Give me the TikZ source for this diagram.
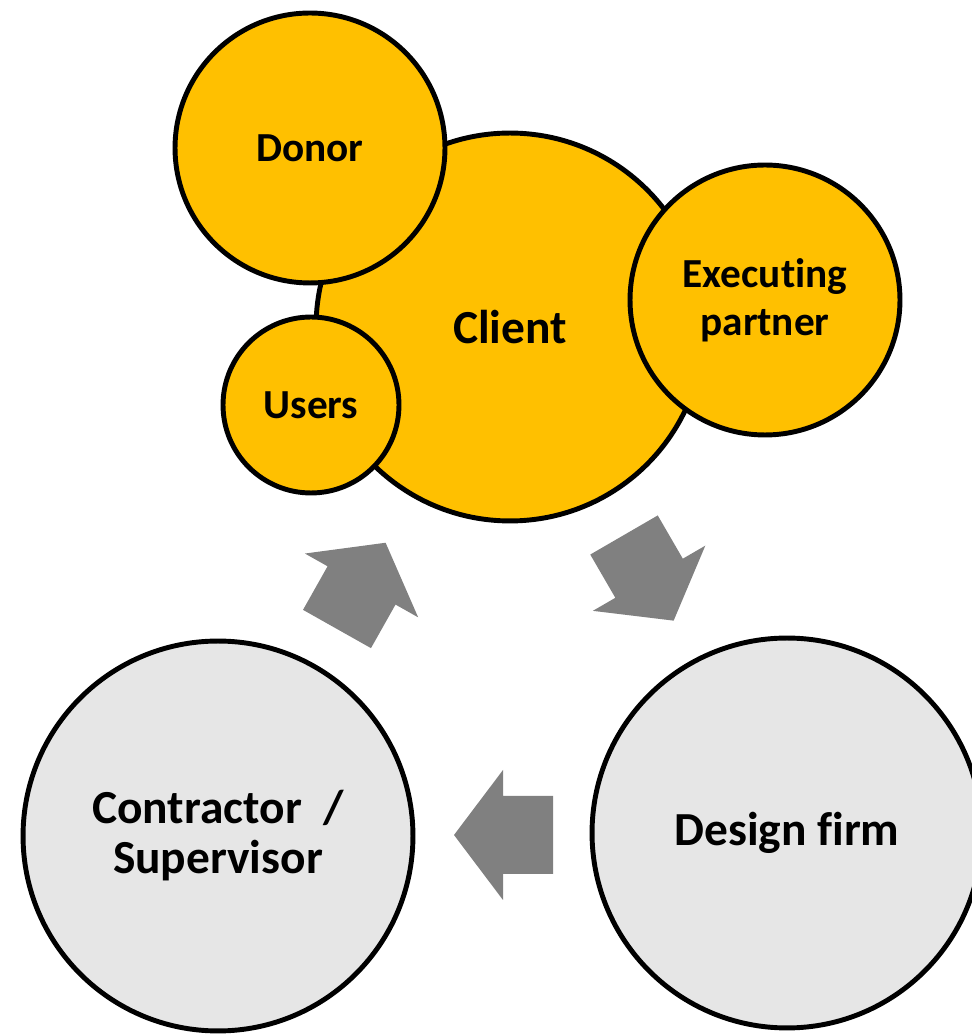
\documentclass[tikz,border=0pt]{standalone}
\usepackage{fontspec}
\setmainfont{Carlito}[Ligatures={NoCommon,NoContextual}]
\usepackage{xcolor}
\definecolor{gold}{HTML}{FFC000}
\definecolor{lightgrey}{HTML}{E6E6E6}
\definecolor{arrowgrey}{HTML}{808080}
\tikzset{
	party/.style={circle, draw=black, line width=2.8pt, inner sep=0pt, align=center, font=\bfseries\fontsize{23.5}{27.2}\selectfont},
	bigparty/.style={party, font=\bfseries\fontsize{27}{28.5}\selectfont}
}

\begin{document}
\begin{tikzpicture}[x=0.02cm, y=0.02cm]
	\useasboundingbox (0,0) rectangle (972,1035);
	\node[bigparty, fill=gold, minimum size=7.76cm] (client) at (510,708) {Client};
	\node[party, fill=gold, minimum size=5.4cm] (donor) at (310,887) {Donor};
	\node[party, fill=gold, minimum size=3.52cm] (users) at (311,630) {Users};
	\node[party, fill=gold, minimum size=5.4cm] (exec) at (765,735) {Executing\\partner};
	\node[bigparty, fill=lightgrey, minimum size=7.8cm] (contractor) at (218,199) {Contractor \ /\\Supervisor};
	\node[bigparty, fill=lightgrey, minimum size=7.8cm] (design) at (787,202) {Design firm};
	\foreach \ax/\ay/\ang in {337/406/60.6, 624/500/-59.9, 553/200/180}
	{
		\fill[arrowgrey, shift={(\ax,\ay)}, rotate=\ang] (0,-39) -- (50,-39) -- (50,-65) -- (99,0) -- (50,65) -- (50,39) -- (0,39) -- cycle;
	}
\end{tikzpicture}
\end{document}
